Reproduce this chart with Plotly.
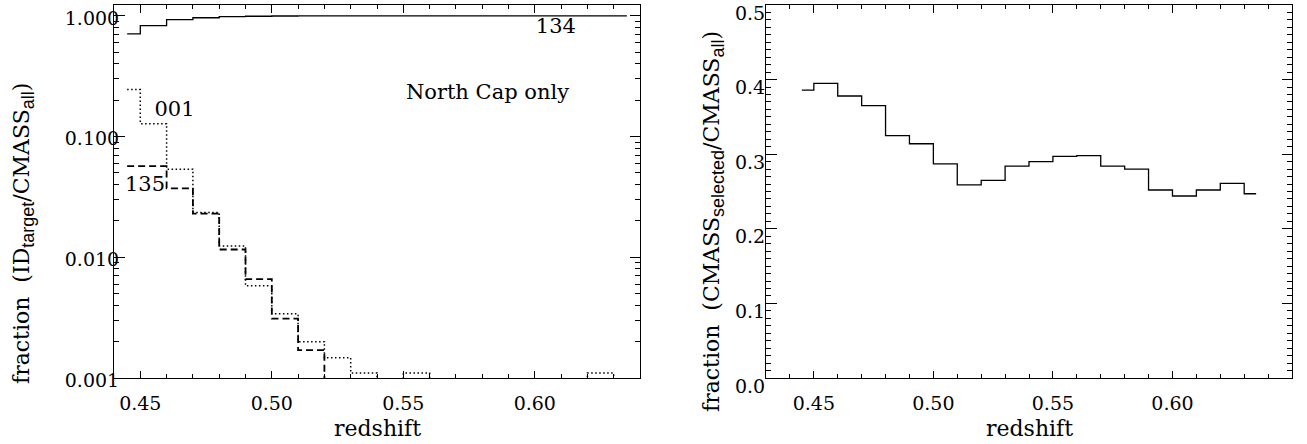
import plotly.graph_objects as go

W, H = 1307, 444

# ---- data (bin centres) ----
redshift = [0.445, 0.455, 0.465, 0.475, 0.485, 0.495, 0.505, 0.515, 0.525, 0.535,
            0.545, 0.555, 0.565, 0.575, 0.585, 0.595, 0.605, 0.615, 0.625, 0.635]
frac_134 = [0.71, 0.83, 0.93, 0.965, 0.985, 0.993, 0.997, 0.998, 0.999, 0.999,
            1.0, 1.0, 1.0, 1.0, 1.0, 1.0, 1.0, 1.0, 1.0, 1.0]
frac_001 = [0.245, 0.128, 0.0537, 0.0235, 0.0124, 0.0058, 0.0034, 0.0020, 0.00147, 0.0011,
            0.0, 0.0011, 0.0, 0.0, 0.0, 0.0, 0.0, 0.0, 0.0011, 0.0]
frac_135 = [0.057, 0.057, 0.0373, 0.023, 0.0116, 0.0066, 0.0031, 0.0017, 0.0, 0.0,
            0.0, 0.0, 0.0, 0.0, 0.0, 0.0, 0.0, 0.0, 0.0, 0.0]
frac_selected = [0.386, 0.395, 0.378, 0.365, 0.325, 0.314, 0.287, 0.259, 0.265, 0.284,
                 0.290, 0.297, 0.298, 0.284, 0.280, 0.252, 0.244, 0.252, 0.261, 0.247]

x_ticks = [0.45, 0.50, 0.55, 0.60]
left_yticks = [0.001, 0.01, 0.1, 1.0]
left_yticktext = ["0.001", "0.010", "0.100", "1.000"]
right_yticks = [0.0, 0.1, 0.2, 0.3, 0.4, 0.5]

label_text = ["134", "001", "135", "North Cap only"]
label_x = [0.608, 0.463, 0.4518, 0.582]
label_y = [0.80, 0.165, 0.039, 0.226]

FONT = "DejaVu Serif"
FS = 19      # tick labels
FT = 22      # titles / labels


def on_log(v, floor=1e-6):
    # zero-valued bins fall off the bottom of the log axis (clipped)
    return [x if x > 0 else floor for x in v]


fig = go.Figure()
line_kw = dict(color="black", shape="hvh")
fig.add_trace(go.Scatter(x=redshift, y=on_log(frac_134), mode="lines",
                         line=dict(width=1.3, **line_kw), xaxis="x", yaxis="y"))
fig.add_trace(go.Scatter(x=redshift, y=on_log(frac_001), mode="lines",
                         line=dict(width=1.5, dash="1.5px,2.5px", **line_kw), xaxis="x", yaxis="y"))
fig.add_trace(go.Scatter(x=redshift, y=on_log(frac_135), mode="lines",
                         line=dict(width=1.8, dash="7px,4px", **line_kw), xaxis="x", yaxis="y"))
fig.add_trace(go.Scatter(x=redshift, y=frac_selected, mode="lines",
                         line=dict(width=1.3, **line_kw), xaxis="x2", yaxis="y2"))
fig.add_trace(go.Scatter(x=label_x, y=label_y, mode="text", text=label_text,
                         textposition="middle center", cliponaxis=False,
                         textfont=dict(family=FONT, size=FT - 1, color="black"),
                         xaxis="x", yaxis="y", hoverinfo="skip"))


def px_x(p):
    return p / W


def px_y(p):
    return 1 - p / H


common_axis = dict(showline=True, linecolor="black", linewidth=1, mirror="ticks",
                   ticks="inside", tickcolor="black", tickwidth=1, showgrid=False,
                   zeroline=False, ticklabeloverflow="allow", automargin=False,
                   tickfont=dict(family=FONT, size=FS, color="black"))

ydom = [px_y(378), px_y(5)]
minor_x = dict(dtick=0.01, tick0=0, ticks="inside", ticklen=4, tickcolor="black", showgrid=False)

fig.update_layout(
    width=W, height=H, margin=dict(l=0, r=0, t=0, b=0, autoexpand=False),
    paper_bgcolor="white", plot_bgcolor="white", showlegend=False,
    xaxis=dict(domain=[px_x(114), px_x(640)], range=[0.44, 0.64], anchor="y",
               tickvals=x_ticks, ticktext=[f"{v:.2f}" for v in x_ticks],
               ticklen=7.5, ticklabelstandoff=8, minor=minor_x, **common_axis),
    yaxis=dict(domain=ydom, type="log", range=[-3, 0.09], anchor="x",
               tickvals=left_yticks, ticktext=left_yticktext,
               ticklen=10.5, ticklabelstandoff=-10, ticklabelshift=2,
               minor=dict(dtick="D1", ticks="inside", ticklen=5, tickcolor="black",
                          showgrid=False),
               **common_axis),
    xaxis2=dict(domain=[px_x(766), px_x(1292)], range=[0.43, 0.65], anchor="y2",
                tickvals=x_ticks, ticktext=[f"{v:.2f}" for v in x_ticks],
                ticklen=7.5, ticklabelstandoff=8, minor=minor_x, **common_axis),
    yaxis2=dict(domain=ydom, range=[0, 0.5], anchor="x2",
                tickvals=right_yticks, ticktext=[f"{v:.1f}" for v in right_yticks],
                ticklen=10.5, ticklabelstandoff=-4, ticklabelshift=8,
                minor=dict(dtick=0.01, tick0=0, ticks="inside", ticklen=5, tickcolor="black",
                           showgrid=False),
                **common_axis),
)

tfont = dict(family=FONT, size=FT, color="black")
SUB = "<sub><span style='font-family:Liberation Sans;font-size:18px'>%s</span></sub>"
NB = "\u00a0"

ann = [
    dict(x=px_x(377), y=px_y(428), xref="paper", yref="paper", text="redshift",
         showarrow=False, font=tfont, xanchor="center", yanchor="middle"),
    dict(x=px_x(1029), y=px_y(428), xref="paper", yref="paper", text="redshift",
         showarrow=False, font=tfont, xanchor="center", yanchor="middle"),
    dict(x=px_x(24), y=px_y(234), xref="paper", yref="paper",
         text="fraction" + NB * 2 + "(ID" + SUB % "target" + "/CMASS" + SUB % "all" + ")",
         showarrow=False, font=tfont, textangle=-90, xanchor="center", yanchor="middle"),
    dict(x=px_x(713), y=px_y(222), xref="paper", yref="paper",
         text="fraction" + NB * 2 + "(CMASS" + SUB % "selected" + "/CMASS" + SUB % "all" + ")",
         showarrow=False, font=tfont, textangle=-90, xanchor="center", yanchor="middle"),
]
fig.update_layout(annotations=ann)

fig.write_html("out.html")
